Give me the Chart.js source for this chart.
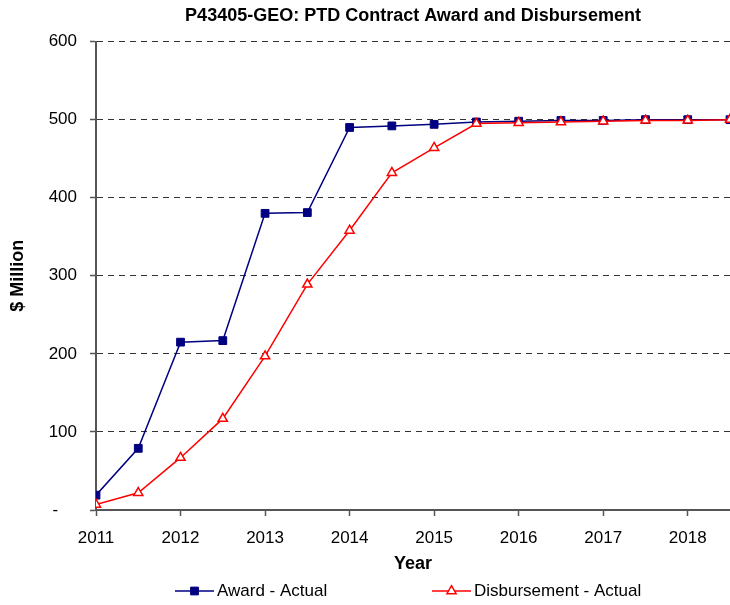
<!DOCTYPE html>
<html>
<head>
<meta charset="utf-8">
<script src="https://cdn.jsdelivr.net/npm/chart.js@4.4.0/dist/chart.umd.min.js"></script>
<style>
  html, body { margin: 0; padding: 0; background: #fff; }
  #wrap { width: 730px; height: 605px; }
</style>
</head>
<body>
<div id="wrap"><canvas id="chart"></canvas></div>
<script>
// half-year reporting periods
const periods = [2011, 2011.5, 2012, 2012.5, 2013, 2013.5, 2014, 2014.5,
                 2015, 2015.5, 2016, 2016.5, 2017, 2017.5, 2018, 2018.5];
const awardActual = [19, 79, 215, 217, 380, 381, 490, 492,
                     494, 497, 498, 499, 499, 500, 500, 500];
const disbursementActual = [7, 22, 67, 117, 197, 289, 358, 432,
                            464, 495, 496, 497, 498, 499, 499, 500];
const yearTicks = [2011, 2012, 2013, 2014, 2015, 2016, 2017, 2018];
const valueTicks = [0, 100, 200, 300, 400, 500, 600];

const FONT = "'Liberation Sans', Arial, sans-serif";
Chart.defaults.font.family = FONT;
Chart.defaults.color = '#000';

const toPoints = vals => vals.map((v, i) => ({ x: periods[i], y: v }));

// legend drawn under the axis, Excel style (line through marker)
const bottomLegend = {
  id: 'bottomLegend',
  afterDraw(chart) {
    const ctx = chart.ctx;
    const y = 591;
    const slots = [
      { ds: chart.data.datasets[1], x: 175 },
      { ds: chart.data.datasets[0], x: 432 }
    ];
    ctx.save();
    slots.forEach(({ ds, x }) => {
      ctx.strokeStyle = ds.borderColor;
      ctx.lineWidth = 1.5;
      ctx.beginPath();
      ctx.moveTo(x, y);
      ctx.lineTo(x + 39, y);
      ctx.stroke();
      ctx.fillStyle = ds.pointBackgroundColor;
      ctx.strokeStyle = ds.pointBorderColor;
      ctx.lineWidth = ds.pointBorderWidth;
      Chart.helpers.drawPoint(ctx, {
        pointStyle: ds.pointStyle, radius: ds.pointRadius,
        borderWidth: ds.pointBorderWidth, rotation: 0
      }, x + 19.5, y);
      ctx.fillStyle = '#000';
      ctx.font = '17px ' + FONT;
      ctx.textBaseline = 'middle';
      ctx.textAlign = 'left';
      ctx.fillText(ds.label, x + 42, y);
    });
    ctx.restore();
  }
};

new Chart(document.getElementById('chart'), {
  type: 'line',
  data: {
    datasets: [
      {
        label: 'Disbursement - Actual',
        data: toPoints(disbursementActual),
        borderColor: '#ff0000',
        borderWidth: 1.5,
        pointStyle: 'triangle',
        pointRadius: 5.3,
        pointBorderWidth: 1.5,
        pointBackgroundColor: '#ffffff',
        pointBorderColor: '#ff0000',
        tension: 0
      },
      {
        label: 'Award - Actual',
        data: toPoints(awardActual),
        borderColor: '#000080',
        borderWidth: 1.5,
        pointStyle: 'rect',
        pointRadius: 5.5,
        pointBorderWidth: 1,
        pointBackgroundColor: '#000080',
        pointBorderColor: '#000080',
        tension: 0
      }
    ]
  },
  options: {
    responsive: true,
    maintainAspectRatio: false,
    animation: false,
    layout: { autoPadding: false, padding: { left: 6, right: 0, top: 0, bottom: 30 } },
    plugins: {
      legend: { display: false },
      tooltip: { enabled: false },
      title: {
        display: true,
        fullSize: false,
        text: 'P43405-GEO: PTD Contract Award and Disbursement',
        font: { size: 18, weight: 'bold' },
        color: '#000',
        padding: { top: 5, bottom: 15 }
      }
    },
    scales: {
      x: {
        type: 'linear',
        min: periods[0],
        max: periods[periods.length - 1],
        afterBuildTicks: s => { s.ticks = yearTicks.map(v => ({ value: v })); },
        afterFit: s => { s.height = 65; },
        ticks: {
          font: { size: 17 },
          padding: 12,
          maxRotation: 0,
          callback: v => String(v)
        },
        grid: {
          drawOnChartArea: false,
          drawTicks: true,
          tickLength: 6,
          tickColor: '#555',
          tickWidth: 1.5
        },
        border: { color: '#555', width: 2 },
        title: {
          display: true,
          text: 'Year',
          font: { size: 18, weight: 'bold' },
          padding: { top: 0, bottom: 0 }
        }
      },
      y: {
        min: 0,
        max: 600,
        afterBuildTicks: s => { s.ticks = valueTicks.map(v => ({ value: v })); },
        afterFit: s => { s.width = 90; },
        ticks: {
          font: { size: 17 },
          padding: 13,
          callback: v => (v === 0 ? '-    ' : String(v))
        },
        grid: {
          color: '#333',
          lineWidth: 1,
          drawTicks: true,
          tickLength: 6,
          tickColor: '#555',
          tickWidth: 1.5
        },
        border: { color: '#555', width: 2, dash: [6, 5] },
        title: {
          display: true,
          text: '$ Million',
          font: { size: 18, weight: 'bold' },
          padding: { top: 1, bottom: 0 }
        }
      }
    }
  },
  plugins: [bottomLegend]
});
</script>
</body>
</html>
